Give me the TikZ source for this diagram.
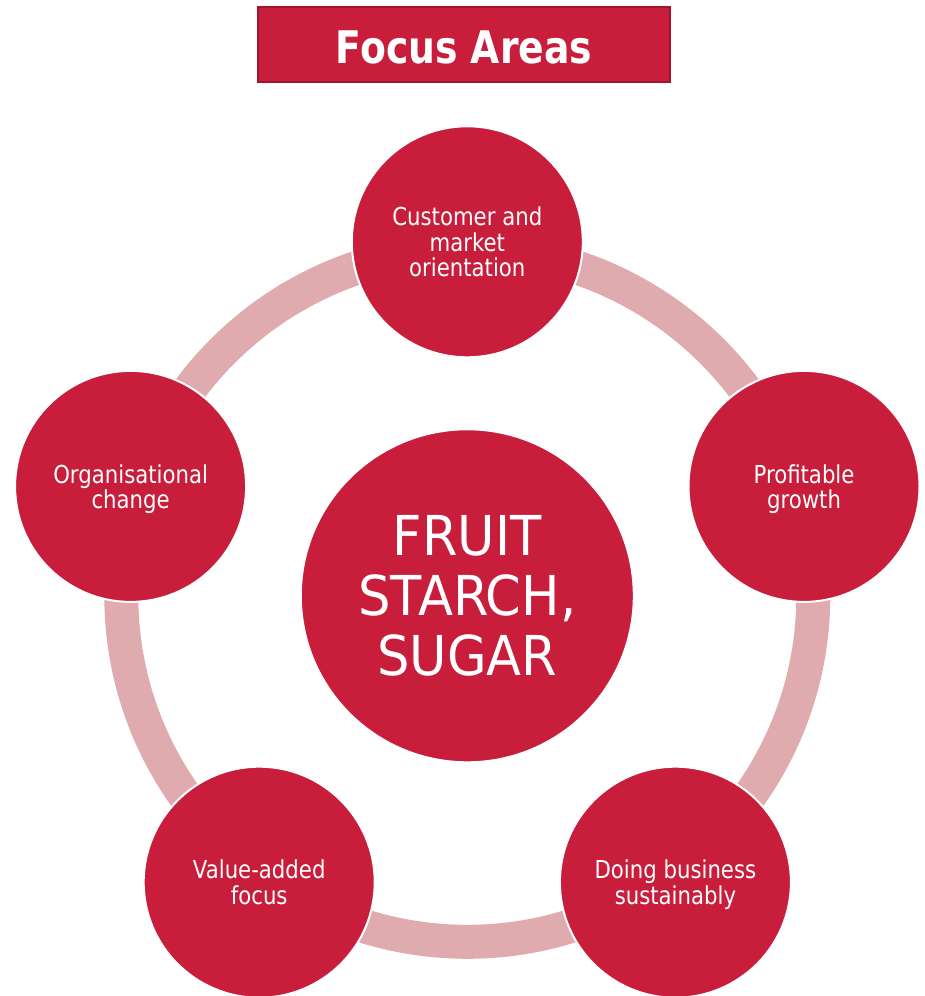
\documentclass[tikz,border=0pt]{standalone}
\usepackage{fontspec}
\setmainfont{DejaVu Sans}[FakeStretch=0.86]
\newfontfamily\centerfont{DejaVu Sans}[FakeStretch=0.93]
\newfontfamily\titlefont{DejaVu Sans}[FakeStretch=0.84]
\definecolor{crimson}{HTML}{C81E3C}
\definecolor{ringpink}{HTML}{DFABAF}
\definecolor{titleborder}{HTML}{A3152F}
\begin{document}
\begin{tikzpicture}[x=1pt,y=1pt,
  focus/.style={circle, fill=crimson, draw=white, line width=2pt,
    minimum size=231pt, inner sep=0pt, text=white, align=center,
    text depth=0pt, font=\fontsize{24.7}{25.5}\selectfont},
  hub/.style={focus, minimum size=333pt,
    font=\centerfont\fontsize{55}{60}\selectfont},
  titlebox/.style={rectangle, fill=crimson, draw=titleborder, line width=2pt,
    minimum width=411.4pt, minimum height=75.3pt, inner sep=0pt, text=white,
    text height=37.4pt, text depth=0pt,
    font=\titlefont\bfseries\fontsize{44.9}{50}\selectfont},
  ring/.style={draw=ringpink, line width=34pt}]
\useasboundingbox (0,0) rectangle (925,996);
\coordinate (C) at (467.3,400.2);
\draw[ring] (C) circle[radius=346];
\node[hub] (hub) at (C) {FRUIT\\STARCH,\\SUGAR};
\node[focus] (cust) at (467.3,754.2) {Customer and\\market\\orientation};
\node[focus] (prof) at (804.0,509.6) {Profitable\\growth};
\node[focus] (sust) at (675.4,113.8) {Doing business\\sustainably};
\node[focus] (value) at (259.2,113.8) {Value-added\\focus};
\node[focus] (org) at (130.6,509.6) {Organisational\\change};
\node[titlebox] (title) at (464,951.35) {Focus Areas};
\end{tikzpicture}
\end{document}
